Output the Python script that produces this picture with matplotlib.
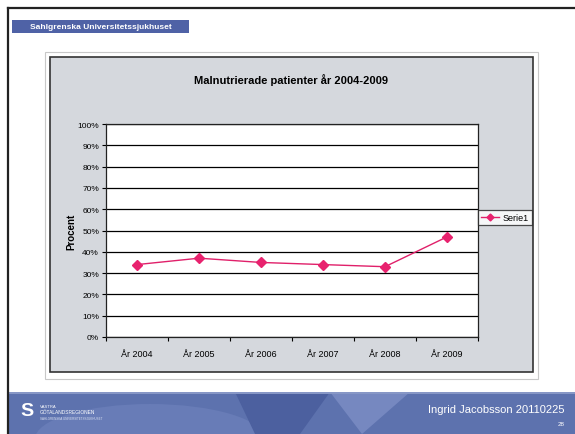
import numpy as np
import matplotlib
matplotlib.use('Agg')
import matplotlib.pyplot as plt
from matplotlib.patches import Rectangle, Ellipse, Polygon

plt.rcParams['font.family'] = ['Liberation Sans', 'DejaVu Sans']

# data
years = ['År 2004', 'År 2005', 'År 2006', 'År 2007', 'År 2008', 'År 2009']
serie1 = [34, 37, 35, 34, 33, 47]
yticks = np.arange(0, 101, 10)

W, H = 575, 435
fig = plt.figure(figsize=(W / 100, H / 100), dpi=100, facecolor='white')


def box(x0, y0, x1, y1, **kw):
    # pixel coords (top-left origin) -> figure rectangle
    return Rectangle((x0 / W, 1 - y1 / H), (x1 - x0) / W, (y1 - y0) / H,
                     transform=fig.transFigure, **kw)


# header bar
fig.add_artist(box(12, 21, 189, 34, facecolor='#4f62a6', edgecolor='none'))
fig.text(30 / W, 1 - 27.5 / H, 'Sahlgrenska Universitetssjukhuset', color='white',
         fontsize=6, fontweight='bold', va='center', ha='left')

# footer band
fig.add_artist(box(8, 393, 575, 435, facecolor='#5d72ae', edgecolor='none'))
footer_clip = box(8, 393, 575, 435, facecolor='none', edgecolor='none')
fig.add_artist(footer_clip)
shapes = [
    Ellipse((150 / W, 1 - 440 / H), 230 / W, 70 / H, facecolor='#687cb7'),
    Polygon([(235 / W, 1 - 393 / H), (330 / W, 1 - 393 / H), (300 / W, 0), (255 / W, 0)],
            closed=True, facecolor='#4c609f'),
    Polygon([(330 / W, 1 - 393 / H), (410 / W, 1 - 393 / H), (362 / W, 0)],
            closed=True, facecolor='#7688c0'),
]
for s in shapes:
    s.set_transform(fig.transFigure)
    s.set_edgecolor('none')
    s.set_clip_path(footer_clip)
    fig.add_artist(s)
fig.add_artist(box(8, 393, 575, 395, facecolor='#8797c6', edgecolor='none'))
fig.text(565 / W, 1 - 410 / H, 'Ingrid Jacobsson 20110225', color='white',
         fontsize=8, ha='right', va='center')
fig.text(565 / W, 1 - 425 / H, '28', color='white', fontsize=4.5, ha='right', va='center')
fig.text(40 / W, 1 - 407 / H, 'VÄSTRA', color='white', fontsize=3, ha='left', va='center')
fig.text(40 / W, 1 - 413 / H, 'GÖTALANDSREGIONEN', color='white', fontsize=3.5,
         ha='left', va='center')
fig.text(40 / W, 1 - 419 / H, 'SAHLGRENSKA UNIVERSITETSSJUKHUSET', color='#dde3f2',
         fontsize=2.2, ha='left', va='center')
fig.text(20 / W, 1 - 412 / H, 'S', color='white', fontsize=14, fontweight='bold',
         ha='left', va='center')

# slide frame
fig.add_artist(plt.Line2D([8 / W, 1], [1 - 9 / H, 1 - 9 / H], color='#222222', lw=1.6,
                          transform=fig.transFigure))
fig.add_artist(plt.Line2D([8 / W, 8 / W], [0, 1 - 9 / H], color='#222222', lw=1.6,
                          transform=fig.transFigure))

# chart area
fig.add_artist(box(45, 53, 538, 380, facecolor='none', edgecolor='#c8c8c8', lw=0.8))
fig.add_artist(box(50, 58, 533, 373, facecolor='#d5d8dd', edgecolor='#333333', lw=1.2))

ax = fig.add_axes([106 / W, 1 - 338 / H, 372 / W, 213 / H])
ax.set_zorder(5)
ax.set_facecolor('white')
x = np.arange(len(years))
ax.plot(x, serie1, color='#e0206a', lw=1, marker='D', markersize=5,
        markerfacecolor='#e8226e', markeredgecolor='#e8226e', label='Serie1')

ax.set_xlim(-0.5, len(years) - 0.5)
ax.set_ylim(0, 100)
ax.set_yticks(yticks)
ax.set_yticklabels([f'{v}%' for v in yticks], fontsize=6)
ax.set_xticks(x)
ax.set_xticklabels(years, fontsize=6.5)
ax.set_xticks(np.arange(-0.5, len(years), 1), minor=True)
ax.tick_params(axis='x', which='major', length=0, pad=9)
ax.tick_params(axis='x', which='minor', length=3, direction='out', width=0.8)
ax.tick_params(axis='y', length=3, direction='out', width=0.8, pad=2)
ax.yaxis.grid(True, color='black', lw=0.9)
ax.set_axisbelow(True)
for s in ax.spines.values():
    s.set_color('#222222')
    s.set_linewidth(0.9)

ax.set_ylabel('Procent', fontsize=7, fontweight='bold', labelpad=1)
fig.text(291 / W, 1 - 80 / H, 'Malnutrierade patienter år 2004-2009', fontsize=8,
         fontweight='bold', ha='center', va='center', zorder=6)

leg = fig.legend(loc='center', bbox_to_anchor=(505 / W, 1 - 218.5 / H), fontsize=6.5,
                 frameon=True, fancybox=False, edgecolor='#222222', handlelength=2,
                 borderpad=0.35, handletextpad=0.4, borderaxespad=0)
leg.set_zorder(6)
leg.get_frame().set_linewidth(0.9)
leg.legend_handles[0].set_markersize(3.5)

fig.savefig('out.png', dpi=100, facecolor='white')
